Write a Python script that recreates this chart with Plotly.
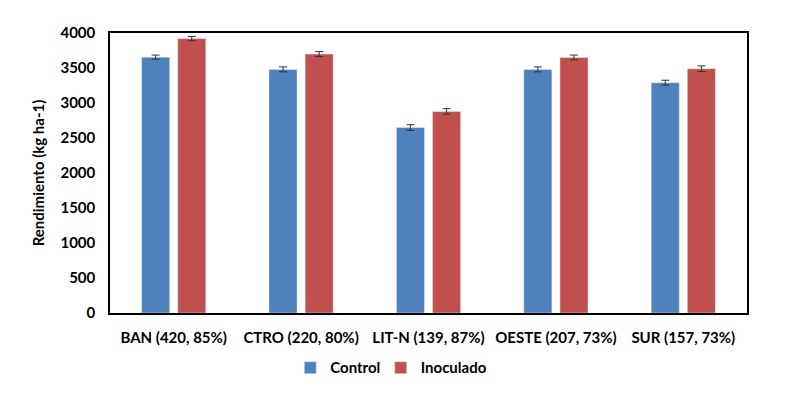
import plotly.graph_objects as go

categories = ["BAN (420, 85%)", "CTRO (220, 80%)", "LIT-N (139, 87%)", "OESTE (207, 73%)", "SUR (157, 73%)"]
control = [3655, 3480, 2650, 3480, 3290]
inoculado = [3920, 3700, 2880, 3650, 3490]
control_err = [30, 35, 40, 35, 35]
inoculado_err = [30, 35, 40, 35, 40]
y_ticks = [0, 500, 1000, 1500, 2000, 2500, 3000, 3500, 4000]

font = "Lato"
fs = 15

fig = go.Figure()
fig.add_trace(go.Bar(
    name="Control", x=categories, y=control, marker_color="#4F81BD", legend="legend",
    error_y=dict(type="data", array=control_err, color="#333333", thickness=1, width=4),
))
fig.add_trace(go.Bar(
    name="Inoculado", x=categories, y=inoculado, marker_color="#C0504D", legend="legend2",
    error_y=dict(type="data", array=inoculado_err, color="#333333", thickness=1, width=4),
))

leg_common = dict(orientation="h", xanchor="left", y=-0.196, yanchor="middle",
                  font=dict(family=font, size=fs, color="black", weight="bold"),
                  itemwidth=30, bgcolor="rgba(0,0,0,0)")

fig.update_layout(
    width=790, height=394,
    margin=dict(l=102, r=51, t=25, b=89),
    paper_bgcolor="white", plot_bgcolor="white",
    barmode="group", bargap=0.433, bargroupgap=0.222,
    font=dict(family=font, size=fs, color="black"),
    showlegend=True,
    legend=dict(x=0.283, **leg_common),
    legend2=dict(x=0.425, **leg_common),
)
fig.update_xaxes(
    showline=True, linecolor="black", linewidth=1.5, mirror=True,
    tickfont=dict(family=font, size=fs, weight="bold"), ticks="", ticklabelstandoff=10,
)
fig.update_yaxes(
    range=[0, 4000], tickvals=y_ticks, showgrid=False,
    showline=True, linecolor="black", linewidth=1.5, mirror=True,
    tickfont=dict(family=font, size=fs, weight="bold"), ticks="", ticklabelstandoff=10,
    title=dict(text="Rendimiento (kg ha-1)", font=dict(family=font, size=fs, weight="bold"), standoff=12),
)

fig.write_html("out.html")
